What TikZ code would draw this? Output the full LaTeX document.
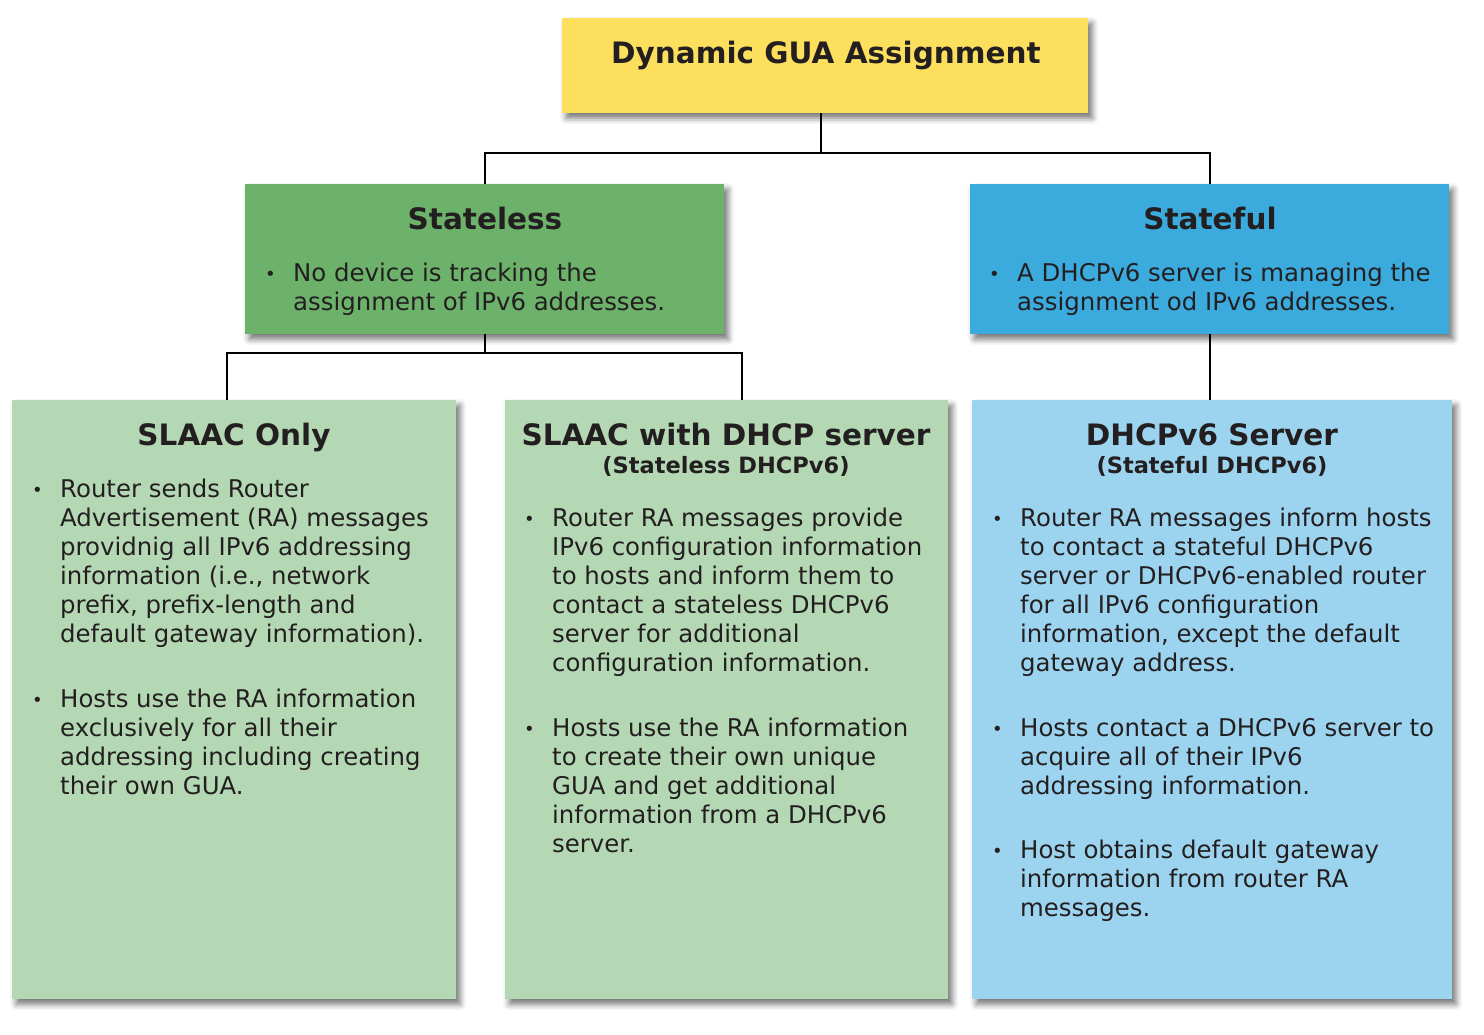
\documentclass[tikz,border=0pt]{standalone}
\usepackage{fontspec}
\setmainfont{DejaVu Sans}
\usetikzlibrary{positioning, shadows.blur}

\definecolor{guayellow}{HTML}{FDDF5E}
\definecolor{slessgreen}{HTML}{6CB26B}
\definecolor{slaacgreen}{HTML}{B5D8B4}
\definecolor{sfulblue}{HTML}{3BAADC}
\definecolor{dhcpblue}{HTML}{9CD4EF}
\definecolor{inktext}{HTML}{231F20}

\newcommand{\bul}{{\fontsize{18}{18}\selectfont\raisebox{1pt}{•}}}
\newcommand{\blist}[1]{\begin{tabular}[t]{@{}p{28pt}@{}l@{}}#1\end{tabular}}

\begin{document}
\begin{tikzpicture}[x=1pt, y=-1pt,
  every node/.style={font=\fontsize{24.4}{29}\selectfont, text=inktext, inner sep=0pt},
  box/.style={rectangle, anchor=north west,
    blur shadow={shadow xshift=4pt, shadow yshift=-5pt, shadow blur radius=6pt, shadow opacity=55}},
  head/.style={anchor=base, font=\fontsize{29.5}{34}\selectfont\bfseries},
  subhead/.style={anchor=base, font=\fontsize{22.5}{26}\selectfont\bfseries},
  body/.style={anchor=base west},
  conn/.style={line width=2pt, draw=black}]
\useasboundingbox (0,0) rectangle (1484,1034);

\node (gua) [box, fill=guayellow, minimum width=526pt, minimum height=95pt] at (562,18) {};
\node (stateless) [box, fill=slessgreen, minimum width=479pt, minimum height=150pt] at (245,184) {};
\node (stateful) [box, fill=sfulblue, minimum width=479pt, minimum height=150pt] at (970,184) {};
\node (slaac) [box, fill=slaacgreen, minimum width=444pt, minimum height=599pt] at (12,400) {};
\node (slaacdhcp) [box, fill=slaacgreen, minimum width=443pt, minimum height=599pt] at (505,400) {};
\node (dhcpsrv) [box, fill=dhcpblue, minimum width=480pt, minimum height=599pt] at (972,400) {};

\draw[conn] ([xshift=-4pt]gua.south) -- ++(0,40) -| (stateless.north);
\draw[conn] ([xshift=-4pt]gua.south) -- ++(0,40) -| (stateful.north);
\draw[conn] (stateless.south) -- ++(0,19) -| ([xshift=-7pt]slaac.north);
\draw[conn] (stateless.south) -- ++(0,19) -| ([xshift=15pt]slaacdhcp.north);
\draw[conn] (stateful.south) -- (stateful.south |- dhcpsrv.north);

\node (guaTitle) [head] at (826,63) {Dynamic GUA Assignment};
\node (statelessTitle) [head] at (485,229) {Stateless};
\node (statefulTitle) [head] at (1210,229) {Stateful};
\node (slaacTitle) [head] at (234,445) {SLAAC Only};
\node (slaacdhcpTitle) [head] at (726,445) {SLAAC with DHCP server};
\node (slaacdhcpSub) [subhead] at (726,473) {(Stateless DHCPv6)};
\node (dhcpsrvTitle) [head] at (1212,445) {DHCPv6 Server};
\node (dhcpsrvSub) [subhead] at (1212,473) {(Stateful DHCPv6)};

\node (statelessText) [body] at (265,281) {\blist{
  \bul & No device is tracking the\\
       & assignment of IPv6 addresses.}};
\node (statefulText) [body] at (989,281) {\blist{
  \bul & A DHCPv6 server is managing the\\
       & assignment od IPv6 addresses.}};

\node (slaacText) [body] at (32,497) {\blist{
  \bul & Router sends Router\\
       & Advertisement (RA) messages\\
       & providnig all IPv6 addressing\\
       & information (i.e., network\\
       & prefix, prefix-length and\\
       & default gateway information).\\[36pt]
  \bul & Hosts use the RA information\\
       & exclusively for all their\\
       & addressing including creating\\
       & their own GUA.}};
\node (slaacdhcpText) [body] at (524,526) {\blist{
  \bul & Router RA messages provide\\
       & IPv6 configuration information\\
       & to hosts and inform them to\\
       & contact a stateless DHCPv6\\
       & server for additional\\
       & configuration information.\\[36pt]
  \bul & Hosts use the RA information\\
       & to create their own unique\\
       & GUA and get additional\\
       & information from a DHCPv6\\
       & server.}};
\node (dhcpsrvText) [body] at (992,526) {\blist{
  \bul & Router RA messages inform hosts\\
       & to contact a stateful DHCPv6\\
       & server or DHCPv6-enabled router\\
       & for all IPv6 configuration\\
       & information, except the default\\
       & gateway address.\\[36pt]
  \bul & Hosts contact a DHCPv6 server to\\
       & acquire all of their IPv6\\
       & addressing information.\\[35pt]
  \bul & Host obtains default gateway\\
       & information from router RA\\
       & messages.}};
\end{tikzpicture}
\end{document}
